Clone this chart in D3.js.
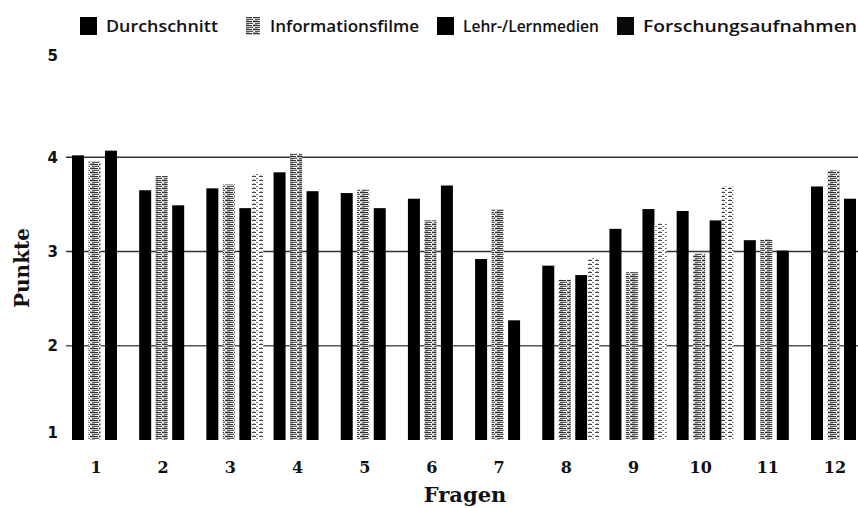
<!DOCTYPE html>
<html><head><meta charset="utf-8">
<script src="https://cdn.jsdelivr.net/npm/d3@7"></script>
<style>body{margin:0;background:#fff}svg{display:block}</style>
</head><body>
<svg id="c" width="858" height="508"></svg>
<script>
const questions = ["1","2","3","4","5","6","7","8","9","10","11","12"];
const seriesNames = ["Durchschnitt","Informationsfilme","Lehr-/Lernmedien","Forschungsaufnahmen"];
const durchschnitt      = [4.02,3.65,3.67,3.84,3.62,3.56,2.92,2.85,3.24,3.43,3.12,3.69];
const informationsfilme = [3.96,3.80,3.71,4.04,3.66,3.33,3.45,2.70,2.78,2.98,3.13,3.86];
const lehrLernmedien    = [4.07,3.49,3.46,3.64,3.46,3.70,2.27,2.75,3.45,3.33,3.01,3.56];
const forschung         = [null,null,3.83,null,null,null,null,2.93,3.30,3.69,null,null];
const yTicks = [1,2,3,4,5];
const gridValues = [2,3,4];

const seriesValues = [durchschnitt, informationsfilme, lehrLernmedien, forschung];
const svg = d3.select("#c");
const defs = svg.append("defs");

// patterns
const p1 = defs.append("pattern").attr("id","patI").attr("patternUnits","userSpaceOnUse")
  .attr("width",9).attr("height",4);
p1.append("rect").attr("width",9).attr("height",4).attr("fill","#fff");
p1.append("rect").attr("x",0).attr("y",0).attr("width",8).attr("height",1).attr("fill","#333");
p1.append("rect").attr("x",0).attr("y",1).attr("width",9).attr("height",1).attr("fill","#c8c8c8");
p1.append("rect").attr("x",2).attr("y",2).attr("width",7).attr("height",1).attr("fill","#555");
p1.append("rect").attr("x",0).attr("y",3).attr("width",5).attr("height",1).attr("fill","#aaa");
const p2 = defs.append("pattern").attr("id","patF").attr("patternUnits","userSpaceOnUse")
  .attr("width",7).attr("height",4);
p2.append("rect").attr("width",7).attr("height",4).attr("fill","#fff");
p2.append("rect").attr("x",0).attr("y",0).attr("width",4).attr("height",1).attr("fill","#444");
p2.append("rect").attr("x",4).attr("y",2).attr("width",2).attr("height",1).attr("fill","#777");
p2.append("rect").attr("x",1).attr("y",3).attr("width",2).attr("height",1).attr("fill","#bbb");

const fills = ["#000","url(#patI)","#000","url(#patF)"];
const legendFills = ["#000","url(#patI)","#000","#0a0a0a"];

const x = d3.scalePoint().domain(questions).range([96,835]);
const y = d3.scaleLinear().domain([1,5]).range([440,63]);
const offset = d3.scaleOrdinal().domain(seriesNames).range([-24,-7.5,9,21]);
const barW = 12;

// grid lines
svg.append("g").selectAll("line").data(gridValues).join("line")
  .attr("x1",66).attr("x2",858)
  .attr("y1",d=>y(d)).attr("y2",d=>y(d))
  .attr("stroke",d=>d===2?"#555":"#333").attr("stroke-width",1.5);

// y ticks
svg.append("g").selectAll("text").data(yTicks).join("text")
  .attr("x",58).attr("y",d=>y(d)).attr("dy",d=>d===5?"-0.15em":d===1?"-0.15em":"0.35em")
  .attr("text-anchor","end")
  .attr("font-family","'DejaVu Sans', sans-serif").attr("font-weight","bold").attr("font-size",15)
  .attr("fill","#111").text(d=>d);

// bars
const flat = [];
seriesValues.forEach((arr,si)=>arr.forEach((v,qi)=>{ if(v!=null) flat.push({s:seriesNames[si],si,q:questions[qi],v}); }));
svg.append("g").selectAll("rect").data(flat).join("rect")
  .attr("x",d=>x(d.q)+offset(d.s))
  .attr("y",d=>y(d.v))
  .attr("width",barW)
  .attr("height",d=>y(1)-y(d.v))
  .attr("fill",d=>fills[d.si]);

// x tick labels
svg.append("g").selectAll("text").data(questions).join("text")
  .attr("x",d=>x(d)).attr("y",467).attr("dy","0.35em").attr("text-anchor","middle")
  .attr("font-family","'DejaVu Serif', serif").attr("font-weight","bold").attr("font-size",16)
  .attr("fill","#111").text(d=>d);

// axis titles
svg.append("text").attr("x",465).attr("y",495).attr("dy","0.35em").attr("text-anchor","middle")
  .attr("font-family","'DejaVu Serif', serif").attr("font-weight","bold").attr("font-size",21)
  .attr("fill","#111").text("Fragen");
svg.append("text").attr("transform","translate(22,268) rotate(-90)").attr("dy","0.35em")
  .attr("text-anchor","middle")
  .attr("font-family","'DejaVu Serif', serif").attr("font-weight","bold").attr("font-size",20)
  .attr("fill","#111").text("Punkte");

// legend
const legendX = [80,244,437,617];
const legendW = [112,149,136,214];
const lg = svg.append("g").selectAll("g").data(seriesNames).join("g")
  .attr("transform",(d,i)=>`translate(${legendX[i]},17)`);
lg.append("rect").attr("width",(d,i)=>i===1?14:17).attr("height",18)
  .attr("x",(d,i)=>i===1?2:0)
  .attr("fill",(d,i)=>legendFills[i]);
lg.append("text").attr("x",26).attr("y",9).attr("dy","0.35em")
  .attr("font-family","'Open Sans', sans-serif").attr("font-size",17).attr("font-weight",600)
  .attr("fill","#111")
  .attr("textLength",(d,i)=>legendW[i]).attr("lengthAdjust","spacingAndGlyphs")
  .text(d=>d);
</script>
</body></html>
